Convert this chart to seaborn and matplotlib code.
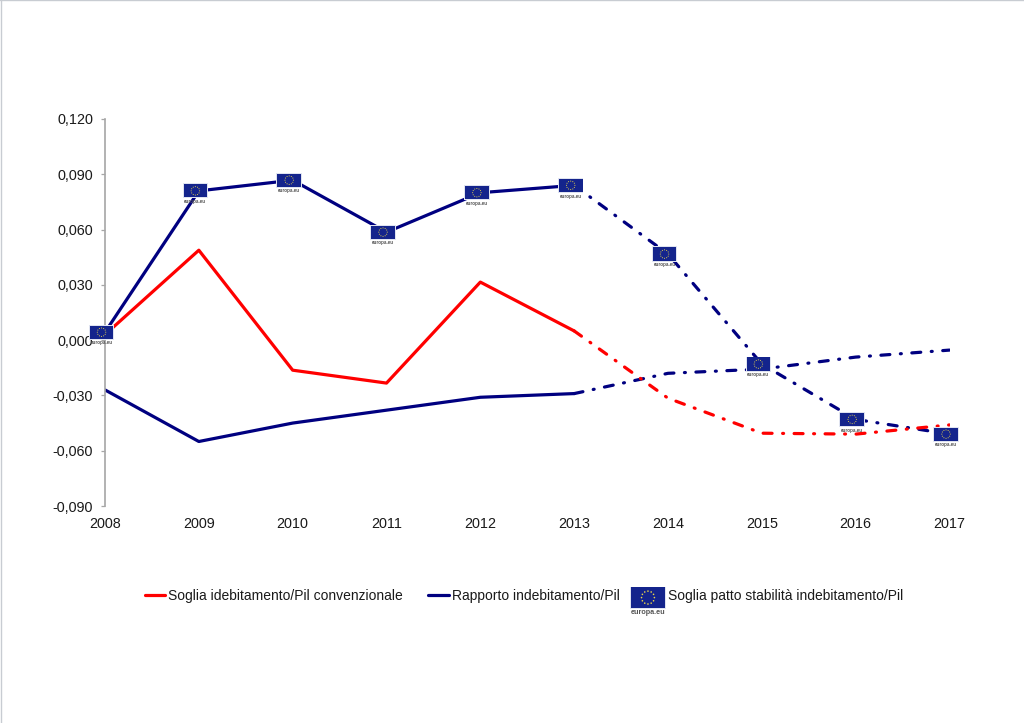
#!/usr/bin/env python3

import numpy as np
import pandas as pd
import seaborn as sns
import matplotlib
matplotlib.use("Agg")
import matplotlib.pyplot as plt
from matplotlib.lines import Line2D
from matplotlib.patches import Rectangle, Circle
from matplotlib.text import Text
from matplotlib.offsetbox import AnnotationBbox, DrawingArea

anni = [2008, 2009, 2010, 2011, 2012, 2013, 2014, 2015, 2016, 2017]
soglia_conv = [0.003, 0.0488, -0.0163, -0.0233, 0.0315, 0.005, -0.0315, -0.0505, -0.051, -0.046]
rapporto = [-0.027, -0.055, -0.045, -0.038, -0.031, -0.029, -0.018, -0.0157, -0.0092, -0.0054]
soglia_patto = [0.0043, 0.081, 0.0868, 0.0586, 0.080, 0.084, 0.0467, -0.013, -0.043, -0.051]
ultimo_storico = 2013

y_ticks = [-0.09, -0.06, -0.03, 0.0, 0.03, 0.06, 0.09, 0.12]
nomi = ["Soglia idebitamento/Pil convenzionale", "Rapporto indebitamento/Pil",
        "Soglia patto stabilità indebitamento/Pil"]

ROSSO = "#ff0000"
BLU = "#000080"
TRATTO = (0, (2.8, 3.3, 0.3, 3.3))

sns.set_theme(style="white")
plt.rcParams["font.family"] = ["Liberation Sans", "DejaVu Sans"]


def disegna_bandiera(da, x0, y0, w, h, scritta):
    # bandiera con bordo chiaro e la scritta europa.eu sotto
    da.add_artist(Rectangle((x0 - 0.7, y0 - 0.7), w + 1.4, h + 1.4, fc="#dfe3f0", ec="none"))
    da.add_artist(Rectangle((x0, y0), w, h, fc="#14248c", ec="none"))
    r = h * 0.32
    for a in np.linspace(0, 2 * np.pi, 12, endpoint=False):
        da.add_artist(Circle((x0 + w / 2 + r * np.cos(a), y0 + h / 2 + r * np.sin(a)),
                             h * 0.04, fc="#e8d44a", ec="none"))
    da.add_artist(Text(x0 + w / 2, y0 - 1.2, "europa.eu", fontsize=scritta, color="#555555",
                       ha="center", va="top", fontweight="bold"))


class HandlerBandiera:
    def legend_artist(self, legend, orig_handle, fontsize, handlebox):
        disegna_bandiera(handlebox, -10, -5.5, 25, 14.5, 5.2)
        return orig_handle


df = pd.DataFrame({"anno": anni, "conv": soglia_conv, "rapp": rapporto, "patto": soglia_patto})
storico = df[df["anno"] <= ultimo_storico]
previsione = df[df["anno"] >= ultimo_storico]

fig, ax = plt.subplots(figsize=(10.24, 7.23), dpi=100)
fig.subplots_adjust(left=105 / 1024, right=949.5 / 1024, top=1 - 119 / 723, bottom=1 - 506 / 723)

for col, colore in [("rapp", BLU), ("patto", BLU), ("conv", ROSSO)]:
    sns.lineplot(data=storico, x="anno", y=col, color=colore, lw=2.3, ax=ax, legend=False)
    l = sns.lineplot(data=previsione, x="anno", y=col, color=colore, lw=2.3, ax=ax, legend=False)
    l.lines[-1].set_linestyle(TRATTO)
    l.lines[-1].set_dash_capstyle("round")

for anno, v in zip(anni, soglia_patto):
    da = DrawingArea(18, 14, 0, 0)
    disegna_bandiera(da, 0.5, 4.5, 17, 9.5, 3.3)
    ab = AnnotationBbox(da, (anno, v), xycoords="data", xybox=(-2.5, 0), boxcoords="offset points",
                        frameon=False, pad=0, box_alignment=(0.5, 0.66), annotation_clip=False, zorder=5)
    ax.add_artist(ab)

ax.set_xlim(anni[0], anni[-1])
ax.set_ylim(y_ticks[0], y_ticks[-1])
ax.set_xticks(anni)
ax.set_yticks(y_ticks)
ax.set_yticklabels([f"{v:.3f}".replace(".", ",") for v in y_ticks])
ax.set_xlabel("")
ax.set_ylabel("")
ax.tick_params(axis="y", left=True, length=3, width=0.9, color="#a6a6a6", labelsize=10.4,
               labelcolor="#1a1a1a", pad=5.5)
ax.tick_params(axis="x", bottom=False, labelsize=10.4, labelcolor="#1a1a1a", pad=2)
for lato in ["top", "right", "bottom"]:
    ax.spines[lato].set_visible(False)
ax.spines["left"].set_color("#a6a6a6")
ax.spines["left"].set_linewidth(1.2)

maniglie = [Line2D([], [], color=ROSSO, lw=2.3), Line2D([], [], color=BLU, lw=2.3), Rectangle((0, 0), 1, 1)]
fig.legend(maniglie, nomi, ncol=3, loc="center", bbox_to_anchor=(524 / 1024, 1 - 596 / 723),
           frameon=False, fontsize=10, handlelength=1.5, handletextpad=0.2, columnspacing=1.8,
           handler_map={Rectangle: HandlerBandiera()}, labelcolor="#1a1a1a")

# cornice sottile in alto e a sinistra
fig.add_artist(Line2D([0.0005, 0.0005], [0, 1], color="#c8ccd2", lw=1))
fig.add_artist(Line2D([0, 1], [0.9995, 0.9995], color="#c8ccd2", lw=1))

fig.savefig("out.png", dpi=100)
